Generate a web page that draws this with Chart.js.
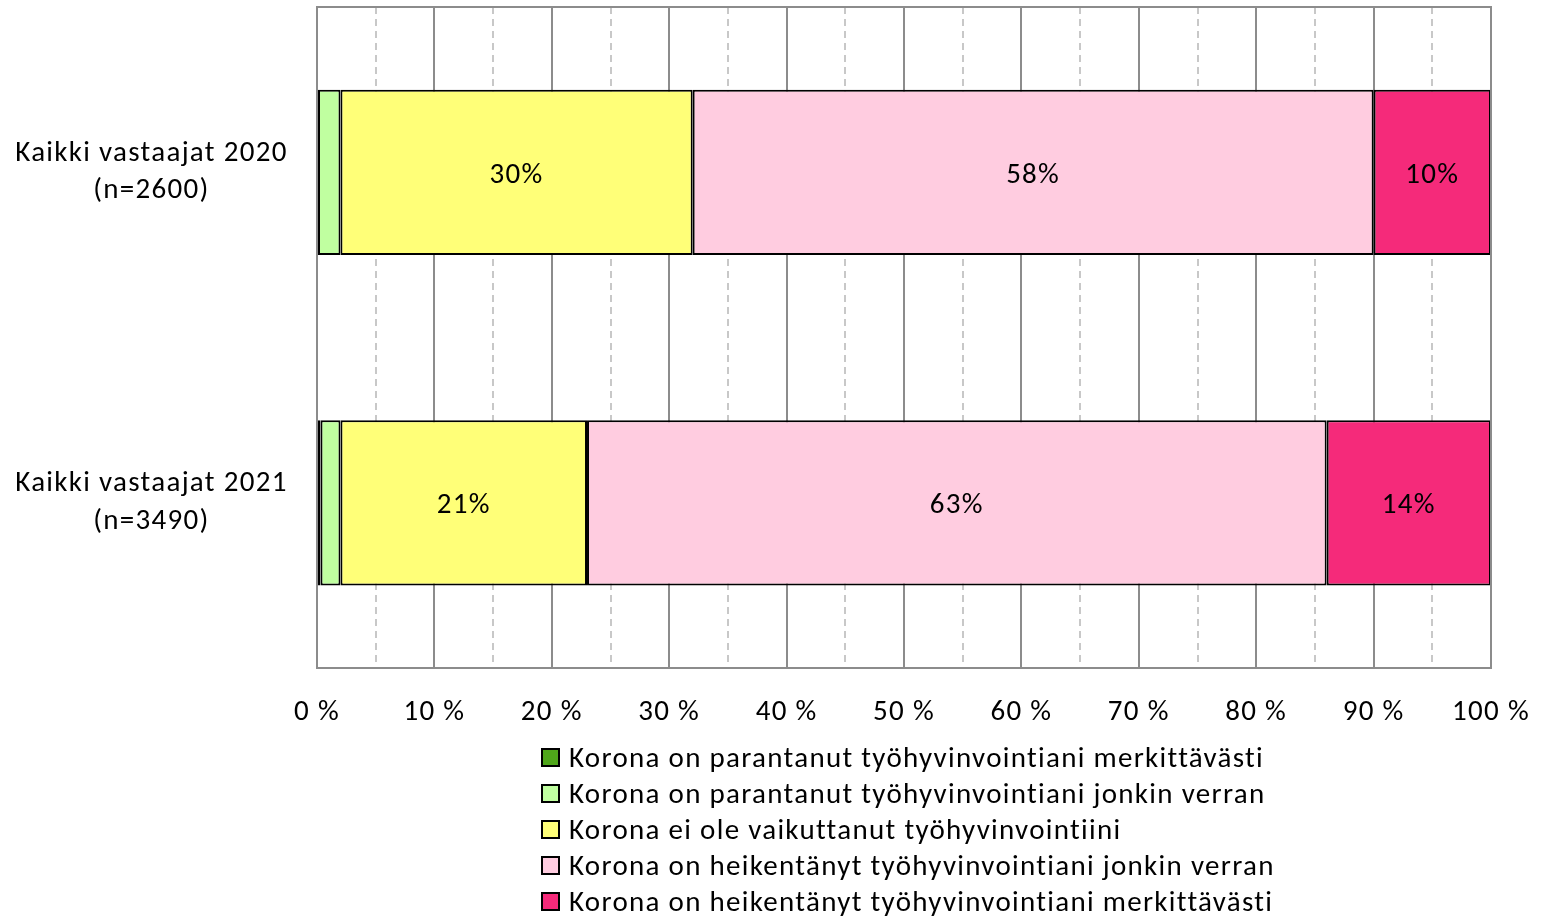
<!DOCTYPE html>
<html>
<head>
<meta charset="utf-8">
<script src="https://cdn.jsdelivr.net/npm/chart.js@4/dist/chart.umd.min.js"></script>
<style>
  html, body { margin: 0; padding: 0; background: #fff; }
  #wrap { position: relative; width: 1547px; height: 916px; }
  #legend { position: absolute; left: 541px; top: 739px; font-family: Carlito, Lato, sans-serif; font-size: 29px; letter-spacing: 1.3px; color: #000; }
  .row { height: 36px; display: flex; align-items: center; white-space: nowrap; }
  .box { width: 15px; height: 15px; border: 2px solid #000; margin-right: 9px; flex: none; }
</style>
</head>
<body>
<div id="wrap">
  <canvas id="c" width="1547" height="916"></canvas>
  <div id="legend"></div>
</div>
<script>
const categories = [
  ['Kaikki vastaajat 2020', '(n=2600)'],
  ['Kaikki vastaajat 2021', '(n=3490)']
];
const seriesNames = [
  'Korona on parantanut työhyvinvointiani merkittävästi',
  'Korona on parantanut työhyvinvointiani jonkin verran',
  'Korona ei ole vaikuttanut työhyvinvointiini',
  'Korona on heikentänyt työhyvinvointiani jonkin verran',
  'Korona on heikentänyt työhyvinvointiani merkittävästi'
];
const improvedMuch = [0, 0.3];
const improvedSome = [2, 1.7];
const noEffect = [30, 21];
const weakenedSome = [58, 63];
const weakenedMuch = [10, 14];
const seriesColors = ['#4FA61A', '#C0FFA0', '#FFFF78', '#FFCCE0', '#F52A7A'];
const xTicks = [0, 10, 20, 30, 40, 50, 60, 70, 80, 90, 100];

const FONT = 'Carlito, Lato, sans-serif';
const allSeries = [improvedMuch, improvedSome, noEffect, weakenedSome, weakenedMuch];

const datasets = allSeries.map((vals, i) => ({
  label: seriesNames[i],
  data: vals,
  backgroundColor: seriesColors[i],
  borderColor: '#000',
  borderWidth: 2,
  borderSkipped: false,
  categoryPercentage: 1,
  barPercentage: 0.5,
  showLabel: i >= 2
}));

const frame = {
  id: 'frame',
  beforeDraw(chart) {
    chart.ctx.letterSpacing = '1.3px';
  },
  afterDraw(chart) {
    const a = chart.chartArea, ctx = chart.ctx;
    ctx.save();
    ctx.strokeStyle = '#8c8c8c';
    ctx.lineWidth = 2;
    ctx.strokeRect(a.left, a.top, a.right - a.left, a.bottom - a.top);
    ctx.restore();
  },
  afterDatasetsDraw(chart) {
    const ctx = chart.ctx;
    ctx.save();
    ctx.font = '29px ' + FONT;
    ctx.letterSpacing = '1.3px';
    ctx.fillStyle = '#000';
    ctx.textAlign = 'center';
    ctx.textBaseline = 'middle';
    chart.data.datasets.forEach((ds, di) => {
      if (!ds.showLabel) return;
      const meta = chart.getDatasetMeta(di);
      meta.data.forEach((el, j) => {
        const v = ds.data[j];
        const p = el.getCenterPoint();
        ctx.fillText(Math.round(v) + '%', p.x, p.y + 3);
      });
    });
    ctx.restore();
  }
};

new Chart(document.getElementById('c'), {
  type: 'bar',
  data: { labels: categories, datasets },
  options: {
    indexAxis: 'y',
    responsive: false,
    animation: false,
    layout: { padding: { top: 7, right: 56, bottom: 190, left: 0 } },
    plugins: { legend: { display: false }, tooltip: { enabled: false } },
    scales: {
      x: {
        stacked: true,
        min: 0, max: 100,
        ticks: {
          stepSize: 5,
          autoSkip: false,
          maxRotation: 0,
          padding: 27,
          color: '#000',
          font: { family: FONT, size: 29 },
          callback: (v) => xTicks.includes(v) ? v + ' %' : ''
        },
        grid: {
          drawTicks: false,
          lineWidth: 2,
          color: (ctx) => ctx.tick && ctx.tick.value % 10 !== 0 ? '#c8c8c8' : '#8c8c8c'
        },
        border: {
          color: '#8c8c8c', width: 2,
          dash: (ctx) => ctx.tick && ctx.tick.value % 10 !== 0 ? [7, 5] : []
        },
        afterFit(s) { s.height = 58; s.paddingLeft = 0; s.paddingRight = 0; }
      },
      y: {
        stacked: true,
        ticks: {
          color: '#000',
          crossAlign: 'center',
          padding: 43,
          font: { family: FONT, size: 29, lineHeight: 1.3 }
        },
        grid: { display: false, drawTicks: false },
        border: { color: '#8c8c8c', width: 2 },
        afterFit(s) { s.width = 317; s.paddingTop = 0; s.paddingBottom = 0; }
      }
    }
  },
  plugins: [frame]
});

const leg = document.getElementById('legend');
seriesNames.forEach((n, i) => {
  const r = document.createElement('div');
  r.className = 'row';
  const b = document.createElement('span');
  b.className = 'box';
  b.style.background = seriesColors[i];
  const t = document.createElement('span');
  t.textContent = n;
  r.appendChild(b); r.appendChild(t);
  leg.appendChild(r);
});
</script>
</body>
</html>
